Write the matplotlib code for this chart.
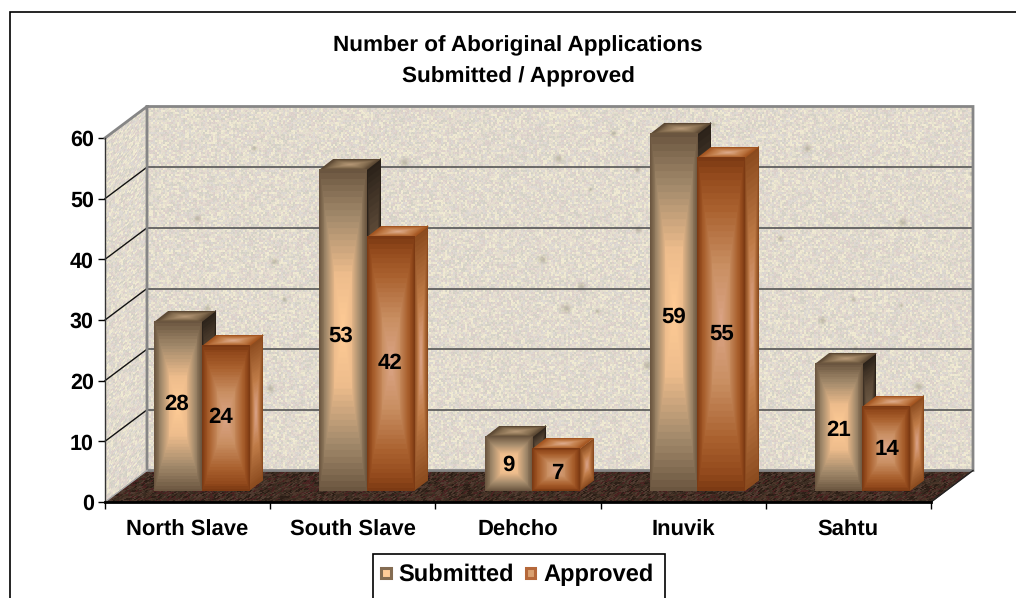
import numpy as np
import matplotlib
matplotlib.use("Agg")
import matplotlib.pyplot as plt
from matplotlib.colors import LinearSegmentedColormap as LSC, to_rgb
from matplotlib.patches import Patch
from matplotlib.lines import Line2D
from matplotlib.transforms import Affine2D

categories = ["North Slave", "South Slave", "Dehcho", "Inuvik", "Sahtu"]
submitted = [28, 53, 9, 59, 21]
approved = [24, 42, 7, 55, 14]
series_names = ["Submitted", "Approved"]
y_ticks = [0, 10, 20, 30, 40, 50, 60]
title_lines = "Number of Aboriginal Applications\nSubmitted / Approved"

# small hand placement of the value labels, in pixels (right, up)
sub_label_nudge = [(-1, 2), (-2, -5), (0, -1), (0, -5), (0, -3)]
app_label_nudge = [(-5, 1), (-1, 1), (1, -3), (1, -9), (1, 0)]

W, H = 1016, 598
plt.rcParams["font.family"] = ["Liberation Sans", "DejaVu Sans"]
plt.rcParams["font.weight"] = "bold"
plt.rcParams["text.hinting"] = "no_hinting"
fig = plt.figure(figsize=(W / 100, H / 100), dpi=100, facecolor="white")
L, R, B, T = 105, 931, 502, 138
ax = fig.add_axes([L / W, 1 - B / H, (R - L) / W, (B - T) / H])
ax.set_facecolor("none")

XMAX = len(categories)
YMAX = 60
DX = 42 * XMAX / (R - L)
DY = 31.5 * YMAX / (B - T)
BAR_W = 47.5 * XMAX / (R - L)
GAP = (1 - 2 * BAR_W) / 2
rng = np.random.default_rng(7)


def ramp(colors):
    return LSC.from_list("r", colors)


def put(tex, origin, e1, e2, z, interp="bilinear"):
    """Paint a texture on the parallelogram origin, origin+e1, origin+e2."""
    if tex.shape[-1] == 3:
        tex = np.dstack([tex, np.ones(tex.shape[:2])])
    m = Affine2D.from_values(e1[0], e1[1], e2[0], e2[1], origin[0], origin[1])
    im = ax.imshow(tex, extent=(0, 1, 0, 1), origin="lower", aspect="auto",
                   interpolation=interp, zorder=z, clip_on=False)
    im.set_transform(m + ax.transData)
    return im


def path_grad(cmap, w, h, steps=26):
    w, h = max(int(w), 4), max(int(h), 4)
    u = np.abs(np.linspace(-1, 1, w))
    v = np.abs(np.linspace(-1, 1, h))
    t = np.maximum.outer(v, u)
    t = np.round(t * steps) / steps
    return cmap(t)[..., :3]


def speckle(w, h, palette, stains=0, stain_color="#A8A490"):
    pal = np.array([to_rgb(p) for p in palette])
    hh, ww = h // 2 + 1, w // 2 + 1
    idx = rng.integers(0, len(pal), (hh, ww))
    img = pal[idx]
    img = np.repeat(np.repeat(img, 2, 0), 2, 1)[:h, :w]
    img = img + (rng.random((h, w, 1)) - .5) * .03
    yy, xx = np.mgrid[0:h, 0:w]
    sc = np.array(to_rgb(stain_color))
    for _ in range(stains):
        x, y = rng.integers(0, w), rng.integers(0, h)
        r = rng.uniform(1, 3)
        a = .6 * np.exp(-((xx - x) ** 2 + (yy - y) ** 2) / (2 * r * r))[..., None]
        img = img * (1 - a) + sc * a
    return np.clip(img, 0, 1)


wall_pal = ["#EFE9D2", "#E6DCD0", "#DED2CC", "#D6D3C8", "#E4DFCE", "#DDD8D2"]
floor_pal = ["#3A2A20", "#4A3428", "#2E2018", "#503A30", "#4A2422", "#3E3024"]

sub_front = ramp([(0, "#FFCC96"), (.35, "#EDBC8C"), (.7, "#A48B6C"), (.9, "#7F6950"), (1, "#6B5640")])
sub_side = ramp([(0, "#7C6850"), (.6, "#5A4836"), (1, "#2A2119")])
sub_top = ramp([(0, "#B89A78"), (.6, "#8A7254"), (1, "#594632")])
app_front = ramp([(0, "#DCA587"), (.35, "#C98F62"), (.7, "#A9602E"), (.9, "#92491C"), (1, "#7C3A14")])
app_side = ramp([(0, "#DCA68E"), (.45, "#C07C48"), (1, "#8A4A1E")])
app_top = ramp([(0, "#DFAE90"), (.55, "#C4814E"), (1, "#A3541F")])

# walls and floor
put(speckle(826, 364, wall_pal, stains=45), (DX, DY), (XMAX, 0), (0, YMAX), 1, "nearest")
put(speckle(42, 364, wall_pal), (0, 0), (DX, DY), (0, YMAX), 1, "nearest")
put(speckle(826, 32, floor_pal), (0, 0), (XMAX, 0), (DX, DY), 2, "nearest")

# gridlines on both walls
for v in y_ticks[1:-1]:
    ax.plot([0, DX], [v, v + DY], color="#111111", lw=1, zorder=3, clip_on=False)
    ax.plot([DX, XMAX + DX], [v + DY, v + DY], color="#555555", lw=1.2, zorder=3, clip_on=False)

# wall frame
fr = dict(color="#868686", lw=2, zorder=3.1, clip_on=False, solid_joinstyle="miter")
ax.plot([0, DX, XMAX + DX, XMAX + DX, DX, DX], [YMAX, YMAX + DY, YMAX + DY, DY, DY, YMAX + DY], **fr)
ax.plot([0, DX], [0, DY], color="#AAAAAA", lw=1, zorder=3.1, clip_on=False)
ax.plot([0, 0], [0, YMAX], color="#333333", lw=1, zorder=3.1, clip_on=False)
ax.plot([XMAX, XMAX + DX], [0, DY], color="#222222", lw=1, zorder=3.1, clip_on=False)

# bars
depth = (DX / 3, DY / 3)
z = 4.0
for i, name in enumerate(categories):
    for j, (vals, nudge, fc, sc, tc) in enumerate([
            (submitted, sub_label_nudge, sub_front, sub_side, sub_top),
            (approved, app_label_nudge, app_front, app_side, app_top)]):
        v = vals[i]
        x0 = i + GAP + j * BAR_W + depth[0]
        y0 = depth[1]
        px_h = v * (B - T) / YMAX
        put(path_grad(sc, 15, px_h), (x0 + BAR_W, y0), depth, (0, v), z)
        put(path_grad(tc, 48, 12), (x0, y0 + v), (BAR_W, 0), depth, z + .01)
        put(path_grad(fc, 48, px_h), (x0, y0), (BAR_W, 0), (0, v), z + .02)
        ax.annotate(str(v), (x0 + BAR_W / 2, y0 + v / 2), xytext=nudge[i], textcoords="offset pixels",
                    ha="center", va="center", fontsize=16, fontweight="bold", color="black", zorder=20)
        z += .1

ax.set_xlim(0, XMAX)
ax.set_ylim(0, YMAX)
ax.set_xticks(range(XMAX + 1))
ax.set_xticklabels([])
ax.set_xticks([k + .5 for k in range(XMAX)], categories, minor=True)
ax.set_yticks(y_ticks)
ax.tick_params(axis="both", which="major", length=5, width=1, color="black")
ax.tick_params(axis="x", which="minor", length=0, pad=12.5)
ax.tick_params(axis="y", labelsize=15.5, pad=3)
for t in ax.get_xminorticklabels():
    t.set_fontsize(15.8)
    t.set_fontweight("bold")
for s in ["top", "right", "left"]:
    ax.spines[s].set_visible(False)
ax.spines["bottom"].set_linewidth(2)
ax.spines["bottom"].set_zorder(3.2)

fig.text(518 / W, 1 - 61 / H, title_lines, ha="center", va="center", fontsize=16.2,
         fontweight="bold", linespacing=1.66)


def fig_line(xs, ys, lw):
    fig.add_artist(Line2D([x / W for x in xs], [1 - y / H for y in ys], color="black", lw=lw,
                          transform=fig.transFigure, solid_joinstyle="miter"))


# outer frame, open at the foot and the right of the picture
fig_line([10, 10, W], [H, 12, 12], 1.2)
# legend box, cut by the foot of the picture
fig_line([373, 373, 665, 665], [H, 554, 554, H], 1.2)

handles = [Patch(facecolor="#FFCC99", edgecolor="#846C52", lw=2.2),
           Patch(facecolor="#D9A070", edgecolor="#B5683A", lw=2.2)]
fig.legend(handles, series_names, ncol=2, loc="center", bbox_to_anchor=(517 / W, 1 - 575 / H),
           frameon=False, fontsize=17, handlelength=.42, handleheight=.28,
           handletextpad=.32, columnspacing=.5, borderpad=0, borderaxespad=0)

fig.savefig("out.png", dpi=100, facecolor="white")
